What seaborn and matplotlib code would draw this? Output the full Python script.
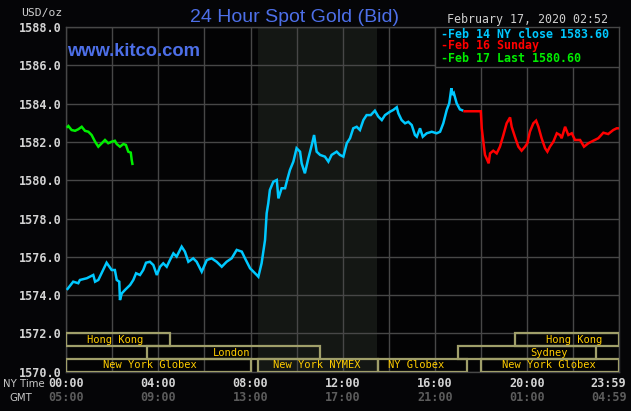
import numpy as np
import pandas as pd
import matplotlib
matplotlib.use("Agg")
import matplotlib.pyplot as plt
from matplotlib.patches import Rectangle
import seaborn as sns

# ---------------- data ----------------
feb14_hours = [0.02, 0.30, 0.52, 0.59, 0.89, 1.17, 1.25, 1.39, 1.75, 1.97, 2.11, 2.19, 2.30, 2.33,
               2.41, 2.55, 2.77, 2.91, 3.03, 3.20, 3.34, 3.46, 3.63, 3.78, 3.93, 4.07, 4.21, 4.36,
               4.50, 4.65, 4.79, 5.01, 5.15, 5.30, 5.51, 5.66, 5.88, 6.10, 6.31, 6.53, 6.75, 6.96,
               7.18, 7.40, 7.62, 7.76, 7.98, 8.27, 8.34, 8.48, 8.63, 8.70, 8.77, 8.84, 8.99, 9.14,
               9.21, 9.35, 9.50, 9.57, 9.71, 9.86, 10.00, 10.15, 10.22, 10.36, 10.51, 10.66, 10.76,
               10.87, 11.02, 11.23, 11.38, 11.52, 11.74, 11.88, 12.03, 12.18, 12.32, 12.46, 12.61,
               12.75, 12.90, 13.04, 13.22, 13.40, 13.55, 13.70, 13.84, 14.06, 14.20, 14.35, 14.42,
               14.56, 14.71, 14.85, 15.00, 15.14, 15.22, 15.36, 15.48, 15.65, 15.87, 16.08, 16.23,
               16.37, 16.52, 16.63, 16.72, 16.78, 16.83, 16.95, 17.09, 17.24]
feb14_prices = [1574.27, 1574.70, 1574.62, 1574.79, 1574.88, 1575.05, 1574.70, 1574.79, 1575.69,
                1575.31, 1575.31, 1574.79, 1574.70, 1573.74, 1574.09, 1574.27, 1574.53, 1574.79,
                1575.14, 1575.05, 1575.31, 1575.69, 1575.74, 1575.57, 1575.05, 1575.48, 1575.66,
                1575.48, 1575.83, 1576.18, 1576.01, 1576.53, 1576.27, 1575.74, 1575.92, 1575.74,
                1575.22, 1575.83, 1575.92, 1575.74, 1575.48, 1575.74, 1575.92, 1576.36, 1576.27,
                1575.92, 1575.40, 1575.05, 1574.96, 1575.66, 1576.88, 1578.27, 1578.79, 1579.49,
                1579.92, 1580.01, 1579.05, 1579.58, 1579.58, 1579.92, 1580.53, 1580.97, 1581.67,
                1581.49, 1580.88, 1580.36, 1581.14, 1581.84, 1582.36, 1581.49, 1581.32, 1581.23,
                1580.97, 1581.32, 1581.49, 1581.32, 1581.23, 1581.93, 1582.19, 1582.71, 1582.79,
                1582.62, 1583.14, 1583.40, 1583.40, 1583.63, 1583.32, 1583.14, 1583.40, 1583.58,
                1583.67, 1583.81, 1583.49, 1583.14, 1582.97, 1583.05, 1582.88, 1582.36, 1582.27,
                1582.71, 1582.27, 1582.45, 1582.53, 1582.45, 1582.53, 1582.97, 1583.67, 1584.02,
                1584.80, 1584.45, 1584.54, 1584.02, 1583.70, 1583.63]

feb16_hours = [17.24, 18.00, 18.04, 18.11, 18.18, 18.25, 18.34, 18.40, 18.54, 18.69, 18.83, 18.98,
               19.12, 19.27, 19.34, 19.48, 19.63, 19.77, 19.92, 20.02, 20.13, 20.28, 20.40, 20.50,
               20.64, 20.79, 20.89, 21.00, 21.15, 21.30, 21.44, 21.51, 21.66, 21.80, 21.95, 22.09,
               22.31, 22.48, 22.67, 22.88, 23.10, 23.32, 23.53, 23.75, 23.90, 24.00]
feb16_prices = [1583.60, 1583.60, 1582.71, 1582.01, 1581.32, 1581.14, 1580.88, 1581.40, 1581.54,
                1581.40, 1581.75, 1582.36, 1582.97, 1583.28, 1582.79, 1582.27, 1581.75, 1581.54,
                1581.75, 1581.93, 1582.53, 1582.97, 1583.11, 1582.79, 1582.19, 1581.67, 1581.49,
                1581.75, 1582.01, 1582.45, 1582.36, 1582.19, 1582.79, 1582.36, 1582.45, 1582.10,
                1582.10, 1581.75, 1581.93, 1582.06, 1582.19, 1582.48, 1582.41, 1582.62, 1582.71,
                1582.71]

feb17_hours = [0.02, 0.09, 0.23, 0.38, 0.52, 0.67, 0.81, 0.96, 1.10, 1.25, 1.39, 1.54, 1.68, 1.82,
               1.97, 2.11, 2.19, 2.33, 2.48, 2.59, 2.69, 2.80, 2.84, 2.88]
feb17_prices = [1582.74, 1582.83, 1582.62, 1582.58, 1582.66, 1582.79, 1582.58, 1582.53, 1582.36,
                1582.01, 1581.75, 1581.93, 1582.10, 1581.93, 1582.01, 1582.06, 1581.89, 1581.75,
                1581.89, 1581.84, 1581.49, 1581.44, 1581.06, 1580.79]

series_names = ["Feb 14 NY close 1583.60", "Feb 16 Sunday", "Feb 17 Last 1580.60"]
series_colors = ["#00c8ff", "#ff0000", "#00ee00"]

y_ticks = [1570, 1572, 1574, 1576, 1578, 1580, 1582, 1584, 1586, 1588]
label_hours = [0, 4, 8, 12, 16, 20, 23.55]
ny_labels = ["00:00", "04:00", "08:00", "12:00", "16:00", "20:00", "23:59"]
gmt_labels = ["05:00", "09:00", "13:00", "17:00", "21:00", "01:00", "04:59"]

session_names = ["Hong Kong", "London", "New York Globex", "New York NYMEX", "NY Globex",
                 "New York Globex", "Sydney", "Hong Kong"]
session_start = [0.0, 3.5, 0.0, 8.33, 13.55, 18.0, 17.0, 19.5]
session_end = [4.5, 11.0, 8.0, 13.55, 17.42, 24.0, 23.0, 24.0]
session_row = [0, 1, 2, 2, 2, 2, 1, 0]
session_label_x = [2.11, 7.16, 3.63, 10.89, 15.18, 20.96, 20.96, 22.04]

nymex_start, nymex_end = 8.33, 13.5

# ---------------- style ----------------
sns.set_style("dark")
BG = "#050507"
GRID = "#474747"
MONO = "DejaVu Sans Mono"
plt.rcParams["font.family"] = ["DejaVu Sans"]

W, H = 631, 411
fig = plt.figure(figsize=(W / 100, H / 100), dpi=100, facecolor=BG)
L, R, T, B = 66.3, 619.0, 27.0, 371.7
ax = fig.add_axes([L / W, 1 - B / H, (R - L) / W, (B - T) / H])
ax.set_facecolor("#030304")


def fx(x):
    return x / W


def fy(y):
    return 1 - y / H


frames = []
for name, hrs, prc in zip(series_names, [feb14_hours, feb16_hours, feb17_hours],
                          [feb14_prices, feb16_prices, feb17_prices]):
    frames.append(pd.DataFrame({"hour": hrs, "price": prc, "series": name}))
df = pd.concat(frames, ignore_index=True)

ax.axvspan(nymex_start, nymex_end, color="#141714", zorder=0, lw=0)

sns.lineplot(data=df, x="hour", y="price", hue="series",
             palette=dict(zip(series_names, series_colors)),
             sort=False, estimator=None, legend=False, linewidth=1.8, ax=ax, zorder=5)
for ln in ax.get_lines():
    ln.set_solid_joinstyle("miter")
    ln.set_solid_capstyle("butt")

ax.set_xlim(0, 24)
ax.set_ylim(1570, 1588)
ax.set_xticks(np.arange(0, 25, 2))
ax.set_xticklabels([])
ax.set_yticks(y_ticks)
ax.set_yticklabels([f"{v:.1f}" for v in y_ticks], fontfamily=MONO, fontweight="bold",
                   fontsize=8.5, color="#d4d4d4")
ax.tick_params(axis="both", length=0, pad=3.5)
ax.set_xlabel("")
ax.set_ylabel("")
ax.grid(True, color=GRID, linewidth=1.0, zorder=1)
ax.set_axisbelow(True)
for sp in ax.spines.values():
    sp.set_color(GRID)
    sp.set_linewidth(1.0)

# session boxes
row_h = 2.0 / 3.0
for name, s, e, r, lx in zip(session_names, session_start, session_end, session_row, session_label_x):
    y0 = 1572 - (r + 1) * row_h
    ax.add_patch(Rectangle((s, y0), e - s, row_h, fill=False, edgecolor="#a09f6a",
                           linewidth=1.6, zorder=3))
    ax.text(lx, y0 + row_h / 2, name, ha="center", va="center", fontfamily=MONO,
            fontsize=7.5, color="#ffcc00", zorder=4)

# legend box
lx0 = (435 - L) / (R - L)
ly0 = (B - 67) / (B - T)
ax.add_patch(Rectangle((lx0, ly0), 1 - lx0, 1 - ly0, transform=ax.transAxes,
                       facecolor="#020203", edgecolor=GRID, linewidth=1.0, zorder=6))
for name, col, yy in zip(series_names, series_colors, [34, 46, 59]):
    fig.text(fx(441), fy(yy), "-" + name, ha="left", va="center", fontfamily=MONO,
             fontweight="bold", fontsize=8.4, color=col, zorder=7)

# texts
fig.text(fx(294.5), fy(22.5), "24 Hour Spot Gold (Bid)", ha="center", va="baseline",
         fontfamily="Liberation Sans", fontsize=14, color="#4d6fe8")
fig.text(fx(67.5), fy(55.5), "www.kitco.com", ha="left", va="baseline",
         fontfamily="Liberation Sans", fontweight="bold", fontsize=13.2, color="#4d6fe8")
fig.text(fx(62), fy(13.3), "USD/oz", ha="right", va="center", fontfamily=MONO,
         fontsize=8.2, color="#cfcfcf")
fig.text(fx(608), fy(20), "February 17, 2020 02:52", ha="right", va="center",
         fontfamily=MONO, fontsize=8.4, color="#cfcfcf")
fig.text(fx(45), fy(384), "NY Time", ha="right", va="center", fontsize=7.3, color="#c8c8c8")
fig.text(fx(20.7), fy(398), "GMT", ha="center", va="center", fontsize=7.3, color="#c8c8c8")

for h, ny, gm in zip(label_hours, ny_labels, gmt_labels):
    xp = L + h * (R - L) / 24
    fig.text(fx(xp), fy(383), ny, ha="center", va="center", fontfamily=MONO,
             fontweight="bold", fontsize=8.5, color="#d4d4d4")
    fig.text(fx(xp), fy(397), gm, ha="center", va="center", fontfamily=MONO,
             fontweight="bold", fontsize=8.5, color="#5c5c5c")

fig.savefig("out.png", dpi=100, facecolor=BG)
